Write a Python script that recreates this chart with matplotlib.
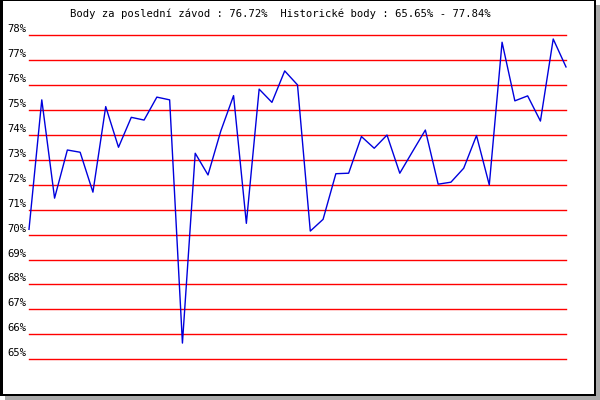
import matplotlib
matplotlib.use("Agg")
import matplotlib.pyplot as plt
import matplotlib.transforms as mtransforms
from matplotlib.patches import Rectangle

# points per race, in percent
scores = [70.21, 75.40, 71.46, 73.39, 73.30, 71.70, 75.13, 73.50, 74.70, 74.59,
          75.51, 75.40, 65.65, 73.26, 72.39, 74.15, 75.57, 70.45, 75.83, 75.30,
          76.56, 76.00, 70.14, 70.61, 72.44, 72.46, 73.93, 73.46, 73.99, 72.46,
          73.33, 74.19, 72.02, 72.10, 72.66, 73.97, 71.99, 77.71, 75.36, 75.56,
          74.55, 77.84, 76.72]
grid_levels = list(range(65, 79))
tick_labels = [f"{v}%" for v in grid_levels]
title = "Body za poslední závod : 76.72%  Historické body : 65.65% - 77.84%"

W, H = 600, 400
fig = plt.figure(figsize=(W / 100, H / 100), dpi=100)
fig.patch.set_facecolor("white")

# frame with grey drop shadow, drawn in pixel coords
bg = fig.add_axes([0, 0, 1, 1])
bg.set_xlim(0, W)
bg.set_ylim(H, 0)
bg.axis("off")
bg.add_patch(Rectangle((5, 5), W - 5, H - 5, facecolor="#aaaaaa", edgecolor="none"))
bg.add_patch(Rectangle((0, 0), 596, 396, facecolor="black", edgecolor="none"))
bg.add_patch(Rectangle((2.5, 1.2), 591.3, 392.5, facecolor="white", edgecolor="none"))
bg.text(280, 14, title, ha="center", va="center", fontsize=7.6,
        family="DejaVu Sans Mono", color="black")

left, right = 29, 566
top, bottom = 35, 359.3
ax = fig.add_axes([left / W, 1 - bottom / H, (right - left) / W, (bottom - top) / H])
ax.set_xlim(0, len(scores) - 1)
ax.set_ylim(grid_levels[0], grid_levels[-1])
ax.axis("off")
ax.patch.set_alpha(0)

for v in grid_levels:
    ax.axhline(v, color="#ff0000", lw=1.0, zorder=1, clip_on=False)

lab_tr = mtransforms.offset_copy(ax.get_yaxis_transform(), fig=fig, x=-3, y=6, units="dots")
for v, lab in zip(grid_levels, tick_labels):
    ax.text(0, v, lab, transform=lab_tr, ha="right", va="center", fontsize=7.6,
            family="DejaVu Sans Mono", color="black", clip_on=False)

ax.plot(range(len(scores)), scores, color="#0000dd", lw=1.0, zorder=2,
        clip_on=False)

fig.savefig("out.png", dpi=100)
